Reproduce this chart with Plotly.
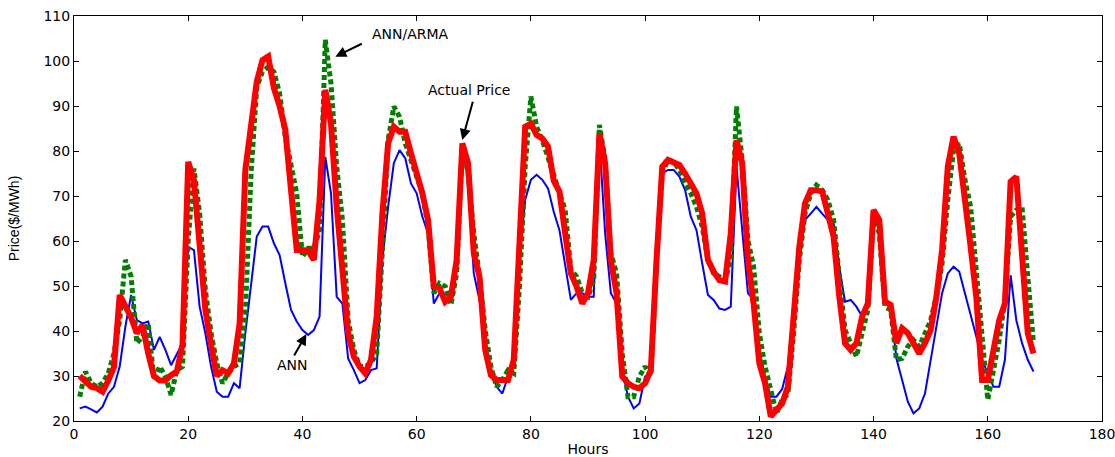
import plotly.graph_objects as go

hours = list(range(1, 169))

actual_price = [
    30, 28.7, 27.6, 27.3, 26.5, 29, 32, 48, 45.4, 43,
    39.5, 41.3, 35, 30, 29, 29, 30.2, 31, 37, 77.6,
    73.5, 58, 44.7, 37, 30, 31.3, 30.6, 32.8, 41.7, 75.8,
    87, 95.4, 100.2, 101, 94, 90, 84.7, 72.4, 58, 58,
    57.8, 55.8, 69.1, 93.6, 86.1, 67.6, 54.3, 39.5, 34.3, 32.1,
    30.6, 33.6, 43.2, 66.1, 81.7, 85.4, 84.3, 84.3, 79.5, 75,
    70.6, 64.7, 49.9, 49.5, 46.5, 47.6, 55.8, 81.7, 77.3, 57.3,
    52.1, 35.8, 30.2, 29.1, 29.1, 29.1, 33.6, 60.2, 85.4, 86.1,
    83.6, 82.8, 81, 73.4, 71, 61.7, 52.8, 49.9, 46.1, 48.4,
    55.8, 83.9, 77.3, 55.8, 48.4, 29.9, 28.4, 27.6, 27.3, 28.4,
    31.3, 55.8, 76.5, 78, 77.6, 76.9, 75, 72.8, 70.6, 66.1,
    55.8, 53.2, 51.3, 51, 61.7, 82.4, 77.3, 55.8, 46.1, 32.8,
    28.4, 21, 22.4, 23.9, 27.6, 45.4, 58.7, 68.4, 71.3, 71.3,
    71, 66.1, 61, 47.6, 37.3, 35.8, 37.3, 43.2, 46.1, 66.9,
    64.7, 46.5, 45.8, 37.3, 40.6, 39.5, 37.3, 35, 37.3, 40.2,
    47.6, 58, 76.5, 83.2, 79.5, 69.9, 58.7, 47.4, 29.1, 29.1,
    35, 42.4, 46.1, 73.2, 74.3, 58.7, 39.5, 35,
]

ann_arma = [
    25.4, 31, 28.4, 27.6, 28.4, 30.6, 35, 42.4, 55.8, 52.1,
    37.3, 38.7, 41.7, 29.1, 32.1, 29.9, 25.8, 31.3, 32.1, 60.2,
    76.1, 66.1, 49.1, 39.5, 32.8, 28.4, 30.6, 32.1, 32.8, 43.9,
    75, 94.3, 97.6, 98.7, 97.6, 92.8, 83.2, 77.3, 70.6, 56.5,
    58.4, 58.4, 62.4, 104.7, 95, 76.5, 64.7, 42.4, 35.8, 32.1,
    32.1, 32.8, 35, 58, 82.4, 89.9, 87.6, 81.7, 78, 74.3,
    70.6, 63.2, 48.4, 50.6, 49.9, 45.8, 52.8, 81, 75, 61.7,
    52.1, 40.2, 32.1, 27.6, 29.1, 31.3, 30.6, 49.9, 76.5, 92.1,
    85.4, 82.4, 78.7, 75, 70.6, 66.9, 53.6, 52.1, 48.4, 47.6,
    51.3, 85.8, 78, 57.3, 52.8, 35, 25.4, 25.4, 29.9, 32.1,
    29.9, 55.8, 75, 78, 77.6, 75.8, 72.8, 70.6, 67.6, 63.2,
    55.8, 52.8, 52.1, 51.3, 55.8, 89.9, 78, 60.2, 54.3, 39.5,
    32.1, 26.9, 21.7, 24.7, 26, 39.5, 55.8, 66.1, 70.6, 72.4,
    71.3, 69.1, 64.7, 52.1, 40.2, 37.3, 34.3, 39.5, 44.7, 65.4,
    61.7, 45.4, 44.7, 33.6, 33.9, 36.5, 38, 36.5, 39.5, 42.4,
    47.6, 55, 69.1, 80.2, 81.7, 73.6, 67.6, 53.6, 39.5, 24.7,
    31.3, 38, 46.9, 65.4, 66.9, 67.6, 52.1, 37.3,
]

ann = [
    22.8, 23.2, 22.6, 21.9, 23.2, 26.1, 27.6, 32.1, 41, 48,
    42.4, 41.7, 42.1, 35.8, 38.7, 35.8, 32.4, 35, 37.3, 58.7,
    58, 45.4, 39.5, 32.1, 26.5, 25.4, 25.4, 28.4, 27.3, 39.5,
    50.6, 61, 63.2, 63.2, 59.5, 56.9, 50.6, 44.7, 42.1, 40.2,
    39.1, 40.2, 43.2, 78.7, 70.6, 47.6, 46.1, 33.9, 31.3, 28.4,
    29.1, 31.3, 31.7, 55.8, 67.6, 77.3, 80.2, 78.4, 72.8, 70.6,
    65.4, 61.7, 46.1, 48.4, 46.9, 46.9, 55, 81, 73.6, 52.8,
    46.9, 38, 31.3, 27.6, 26.1, 29.9, 32.1, 55.8, 69.1, 73.6,
    74.7, 73.6, 71.7, 66.5, 62.4, 55, 46.9, 48.4, 48.4, 47.6,
    47.6, 82.4, 61.7, 48.4, 46.1, 31.3, 25.4, 22.8, 23.9, 29.9,
    30.6, 55, 75, 75.8, 75.8, 74.3, 71.3, 65.4, 62.4, 55,
    48, 46.9, 45, 44.7, 45.4, 76.5, 61.7, 48.4, 46.9, 35.8,
    29.9, 25.4, 25.4, 27.1, 32.1, 45.4, 55.8, 64.7, 66.1, 67.6,
    66.1, 64.7, 64, 54.3, 46.5, 46.9, 45.4, 43.2, 45.4, 66.1,
    63.2, 46.1, 45.4, 33.9, 29.1, 24.3, 21.7, 22.8, 26.1, 33.6,
    40.2, 48.4, 52.8, 54.3, 53.2, 48.4, 43.9, 38.7, 33.6, 30.6,
    27.6, 27.6, 33.6, 52.4, 42.4, 37.3, 33.6, 31,
]

x_ticks = [0, 20, 40, 60, 80, 100, 120, 140, 160, 180]
y_ticks = [20, 30, 40, 50, 60, 70, 80, 90, 100, 110]

fig = go.Figure()
fig.add_trace(go.Scatter(x=hours, y=ann, mode="lines", name="ANN",
                         line=dict(color="#0000ff", width=2)))
fig.add_trace(go.Scatter(x=hours, y=ann_arma, mode="lines", name="ANN/ARMA",
                         line=dict(color="#007f00", width=5, dash="5px,3px")))
fig.add_trace(go.Scatter(x=hours, y=actual_price, mode="lines", name="Actual Price",
                         line=dict(color="#ff0000", width=6)))

font = "DejaVu Sans, Verdana, sans-serif"
ytitle_font = "Liberation Sans, Arial, sans-serif"

# annotations: arrows (tail -> head) plus labels
arrows = [
    ("ANN/ARMA", (50.66, 104.0), (45.76, 100.96), (58.9, 106.0)),
    ("Actual Price", (69.9, 91.3), (67.99, 82.44), (69.2, 93.6)),
    ("ANN", (38.4, 34.2), (40.69, 39.33), (38.2, 32.4)),
]
for label, tail, head, txt in arrows:
    fig.add_annotation(x=head[0], y=head[1], ax=tail[0], ay=tail[1],
                       xref="x", yref="y", axref="x", ayref="y",
                       text="", showarrow=True, arrowhead=2, arrowsize=1.1,
                       arrowwidth=2, arrowcolor="black", standoff=0)
    fig.add_annotation(x=txt[0], y=txt[1], xref="x", yref="y", text=label,
                       showarrow=False, font=dict(family=font, size=14, color="black"))

axis_common = dict(
    showline=True, linecolor="black", linewidth=1, mirror="ticks",
    ticks="inside", ticklen=5, tickcolor="black", showgrid=False, zeroline=False,
    automargin=False, ticklabeloverflow="allow",
    tickfont=dict(family=font, size=14, color="black"),
)

fig.update_xaxes(range=[0, 180], tickvals=x_ticks,
                 title=dict(text="Hours", font=dict(family=font, size=14, color="black"), standoff=6),
                 **axis_common)
fig.update_yaxes(range=[20, 110], tickvals=y_ticks,
                 title=dict(text="Price($/MWh)", font=dict(family=ytitle_font, size=14, color="black"), standoff=20),
                 **axis_common)

fig.update_layout(
    width=1115, height=457,
    margin=dict(l=74, r=13, t=16, b=36, autoexpand=False),
    paper_bgcolor="white", plot_bgcolor="white",
    showlegend=False,
)

# remove the default page margin so the figure fills the window exactly
fig.write_html("out.html",
               config={"displayModeBar": False},
               post_script="document.body.style.margin='0';document.body.style.overflow='hidden';")
